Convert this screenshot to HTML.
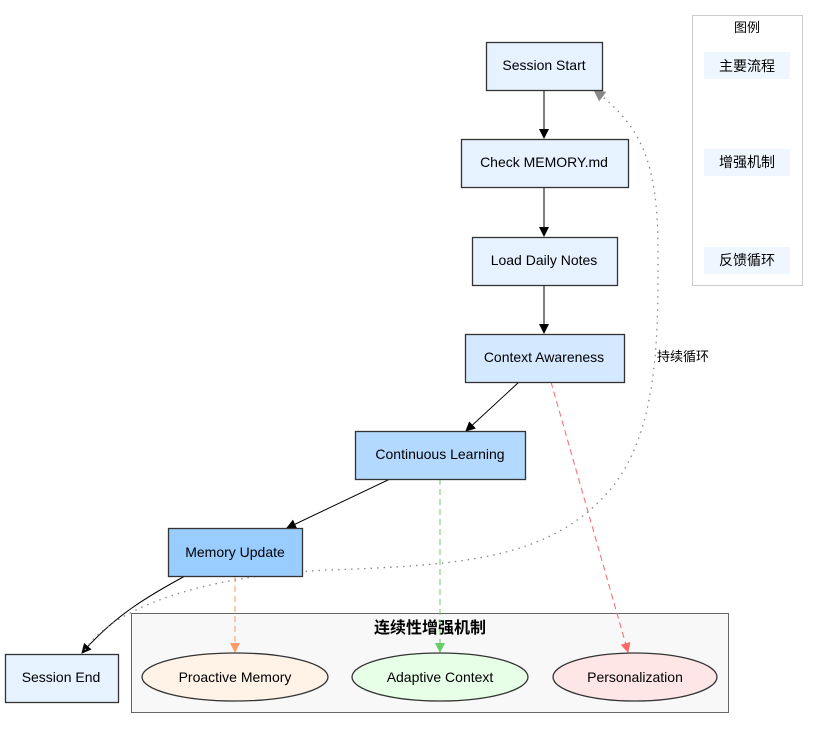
<!DOCTYPE html>
<html><head><meta charset="utf-8"><style>
html,body{margin:0;padding:0;background:#fff;}
svg{display:block;}
text{font-family:"Liberation Sans","Noto Sans CJK SC",sans-serif;fill:#000;}
</style></head><body>
<svg width="818" height="729" viewBox="0 0 818 729" xmlns="http://www.w3.org/2000/svg">
<defs>
<marker id="ab" markerWidth="10" markerHeight="10" refX="9" refY="5" orient="auto" markerUnits="userSpaceOnUse"><path d="M0,0 L10,5 L0,10 z" fill="#000"/></marker>
<marker id="ag" markerWidth="10" markerHeight="10" refX="9" refY="5" orient="auto" markerUnits="userSpaceOnUse"><path d="M0,0 L10,5 L0,10 z" fill="#66cc66"/></marker>
<marker id="ar" markerWidth="10" markerHeight="10" refX="9" refY="5" orient="auto" markerUnits="userSpaceOnUse"><path d="M0,0 L10,5 L0,10 z" fill="#ff6666"/></marker>
<marker id="ao" markerWidth="10" markerHeight="10" refX="9" refY="5" orient="auto" markerUnits="userSpaceOnUse"><path d="M0,0 L10,5 L0,10 z" fill="#ff9966"/></marker>
<marker id="ay" markerWidth="12" markerHeight="12" refX="11" refY="6" orient="auto" markerUnits="userSpaceOnUse"><path d="M0,0 L12,6 L0,12 z" fill="#888"/></marker>
</defs>
<!-- legend -->
<rect x="692.5" y="15.5" width="110" height="270" fill="#fff" stroke="#ccc"/>
<text x="747" y="32" font-size="13" text-anchor="middle">图例</text>
<rect x="704" y="52" width="86" height="27" fill="#eef6ff"/>
<text x="747" y="71" font-size="14" text-anchor="middle">主要流程</text>
<rect x="704" y="149" width="86" height="27" fill="#eef6ff"/>
<text x="747" y="167" font-size="14" text-anchor="middle">增强机制</text>
<rect x="704" y="247" width="86" height="27" fill="#eef6ff"/>
<text x="747" y="265" font-size="14" text-anchor="middle">反馈循环</text>
<!-- cluster -->
<rect x="131.5" y="613.5" width="597" height="99" fill="#f8f8f8" stroke="#666"/>
<text x="430" y="633" font-size="16" font-weight="bold" text-anchor="middle">连续性增强机制</text>
<!-- edges -->
<line x1="544" y1="90" x2="544" y2="138" stroke="#000" marker-end="url(#ab)"/>
<line x1="544" y1="187" x2="544" y2="236" stroke="#000" marker-end="url(#ab)"/>
<line x1="544" y1="285" x2="544" y2="333" stroke="#000" marker-end="url(#ab)"/>
<line x1="519" y1="382" x2="466" y2="431" stroke="#000" marker-end="url(#ab)"/>
<line x1="390" y1="479" x2="287" y2="528" stroke="#000" marker-end="url(#ab)"/>
<path d="M185,576 C150,595 115,615 82,653" fill="none" stroke="#000" marker-end="url(#ab)"/>
<line x1="440" y1="479" x2="440" y2="652" stroke="#66cc66" stroke-dasharray="6,4" marker-end="url(#ag)"/>
<line x1="551" y1="382" x2="628" y2="652" stroke="#ff6666" stroke-dasharray="6,4" marker-end="url(#ar)"/>
<line x1="235" y1="576" x2="235" y2="652" stroke="#ff9966" stroke-dasharray="6,4" marker-end="url(#ao)"/>
<path d="M85,650 C110,610 200,575 330,570 C460,565 550,560 610,490 C660,430 658,330 658,250 C658,160 640,125 594,90" fill="none" stroke="#888" stroke-dasharray="1.5,5" stroke-width="1.3" marker-end="url(#ay)"/>
<text x="683" y="361" font-size="13" text-anchor="middle">持续循环</text>
<!-- nodes -->
<g stroke="#333" stroke-width="1.3" font-size="14">
<rect x="486.5" y="42.5" width="116" height="48" fill="#e6f2ff"/>
<rect x="461.5" y="139.5" width="167" height="48" fill="#e6f2ff"/>
<rect x="472.5" y="237.5" width="145" height="48" fill="#e6f2ff"/>
<rect x="465.5" y="334.5" width="159" height="48" fill="#d4e8ff"/>
<rect x="355.5" y="431.5" width="170" height="48" fill="#b3d9ff"/>
<rect x="168.5" y="528.5" width="134" height="48" fill="#99ccff"/>
<rect x="5.5" y="654.5" width="113" height="48" fill="#e6f2ff"/>
<ellipse cx="235" cy="677" rx="93" ry="24" fill="#fff2e6"/>
<ellipse cx="440" cy="677" rx="88" ry="24" fill="#e6ffe6"/>
<ellipse cx="635" cy="677" rx="82" ry="24" fill="#ffe6e6"/>
</g>
<g font-size="14" text-anchor="middle">
<text x="544" y="70">Session Start</text>
<text x="544" y="167">Check MEMORY.md</text>
<text x="544" y="265">Load Daily Notes</text>
<text x="544" y="362">Context Awareness</text>
<text x="440" y="459">Continuous Learning</text>
<text x="235" y="557">Memory Update</text>
<text x="61" y="682">Session End</text>
<text x="235" y="682">Proactive Memory</text>
<text x="440" y="682">Adaptive Context</text>
<text x="635" y="682">Personalization</text>
</g>
</svg>
</body></html>
